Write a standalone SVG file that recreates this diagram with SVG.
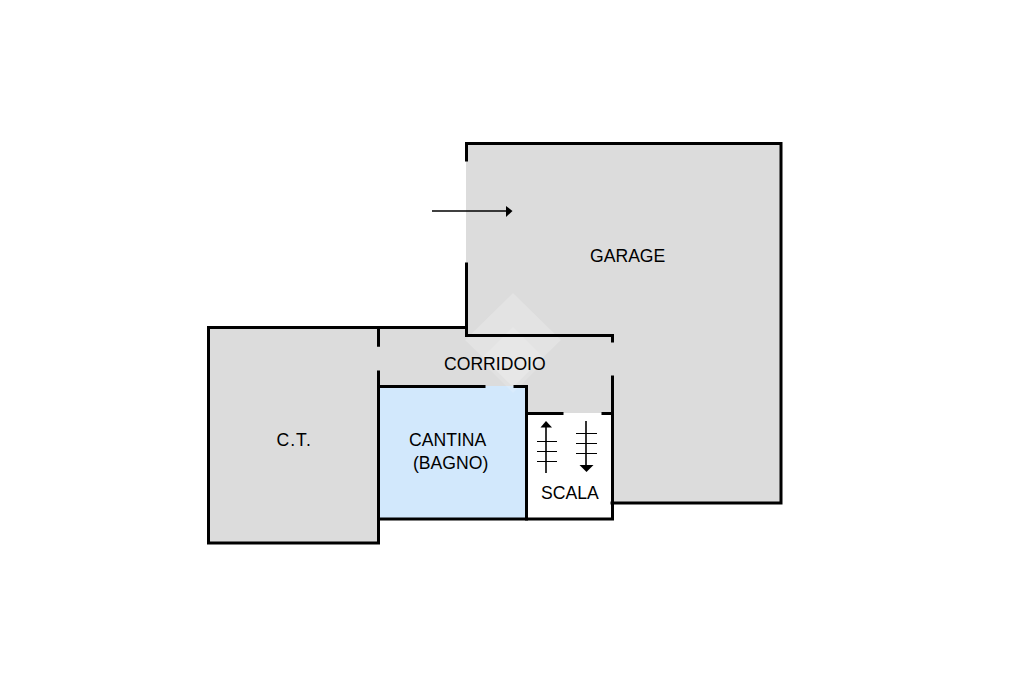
<svg xmlns="http://www.w3.org/2000/svg" width="1024" height="682" viewBox="0 0 1024 682">
<style>
.wall{fill:none;stroke:#000;stroke-width:3;stroke-linecap:square}
.thin{fill:none;stroke:#000;stroke-width:1.6}
.tick{fill:none;stroke:#000;stroke-width:1.2}
.grey{fill:#dcdcdc}
.lbl{font-family:"Liberation Sans",Arial,sans-serif;font-size:17.6px;fill:#000}
</style>
<rect width="1024" height="682" fill="#fff"/>
<path class="grey" d="M466 143H781V503H612V336H466Z"/>
<path class="grey" d="M378 327H466V336H612V413H527V386H378Z"/>
<rect class="grey" x="208" y="327" width="171" height="216"/>
<rect x="379" y="386" width="148" height="133" fill="#d2e8fc"/>
<rect x="527" y="413" width="85" height="106" fill="#fff"/>
<g id="watermark" fill="#fff">
<path d="M513 293L561 340L513 387L465 340Z" fill-opacity=".2"/>
<path d="M513 327L546 360L513 393L480 360Z" fill-opacity=".16"/>
</g>
<g id="walls">
<path class="wall" d="M466.500 160V143.500H781V503H612"/>
<path class="wall" d="M466.500 264V335.500H612.500V341"/>
<path class="wall" d="M612.500 377V519H378.500"/>
<path class="wall" d="M378.500 345V327.500H466"/>
<path class="wall" d="M378.500 345V327.500H208.500V543H378.500V372"/>
<path class="wall" d="M378.500 386.500H484M515 386.500H526.500V519"/>
<path class="wall" d="M526.500 413.500H562M603 413.500H612"/>
</g>
<g id="connectors">
<path class="thin" d="M432 211H507"/><path d="M506 206L512.500 211L506 217Z"/>
<path class="thin" d="M546 426V473"/><path class="tick" d="M537 441.500H557M537 451.500H557M537 461.500H557"/><path d="M540.500 427.500L546 421L552 427.500Z"/>
<path class="thin" d="M586 421V466"/><path class="tick" d="M576 433.500H597M576 443.500H597M576 453.500H597"/><path d="M579.500 465H593.500L586.500 472Z"/>
</g>
<g id="garage"><text class="lbl" x="590" y="261.500">GARAGE</text></g>
<g id="corridoio"><text class="lbl" x="444" y="369.500">CORRIDOIO</text></g>
<g id="ct"><text class="lbl" x="276.500" y="445.500" letter-spacing="1">C.T.</text></g>
<g id="cantina"><text class="lbl" x="409" y="445.500">CANTINA</text><text class="lbl" x="413" y="469">(BAGNO)</text></g>
<g id="scala"><text class="lbl" x="541" y="498.500">SCALA</text></g>
</svg>
